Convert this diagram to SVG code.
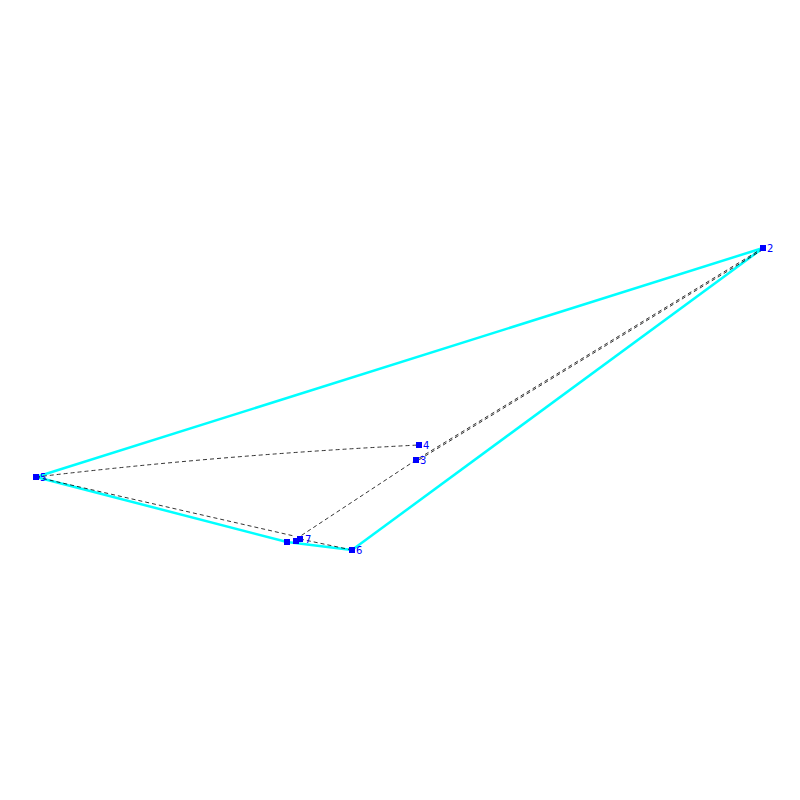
<svg xmlns="http://www.w3.org/2000/svg" width="800" height="800" viewBox="0 0 800 800">
<style>
.e{stroke:#00ffff;stroke-width:2.5;fill:none}
.d{stroke:#000;stroke-width:0.8;stroke-dasharray:4,3;fill:none}
.n rect{fill:#0000ff}
.n text{font-family:"DejaVu Sans",sans-serif;font-size:10px;fill:#0000ff}
</style>
<rect width="800" height="800" fill="#fff"/>
<g id="connectors">
<line class="e" x1="36" y1="477" x2="763" y2="248"/>
<line class="e" x1="763" y1="248" x2="352" y2="550"/>
<line class="e" x1="352" y1="550" x2="287" y2="542"/>
<line class="e" x1="287" y1="542" x2="36" y2="477"/>
<path class="d" d="M36,477 Q220,455 419,445"/>
<line class="d" x1="763" y1="248" x2="416" y2="460"/>
<line class="d" x1="763" y1="249.5" x2="417" y2="461"/>
<line class="d" x1="416" y1="460" x2="296" y2="539"/>
<line class="d" x1="36" y1="477" x2="294" y2="536"/>
<line class="d" x1="300" y1="539" x2="352" y2="550"/>
</g>
<g id="n1" class="n"><rect x="284" y="539" width="6" height="6"/></g>
<g id="n0" class="n"><rect x="293" y="538" width="6" height="6"/></g>
<g id="n7" class="n"><rect x="297" y="536" width="6" height="6"/><text x="305" y="543">7</text></g>
<g id="n6" class="n"><rect x="349" y="547" width="6" height="6"/><text x="356" y="554">6</text></g>
<g id="n5" class="n"><rect x="33" y="474" width="6" height="6"/><text x="40" y="481">5</text></g>
<g id="n4" class="n"><rect x="416" y="442" width="6" height="6"/><text x="423" y="449">4</text></g>
<g id="n3" class="n"><rect x="413" y="457" width="6" height="6"/><text x="420" y="464">3</text></g>
<g id="n2" class="n"><rect x="760" y="245" width="6" height="6"/><text x="767" y="252">2</text></g>
</svg>
